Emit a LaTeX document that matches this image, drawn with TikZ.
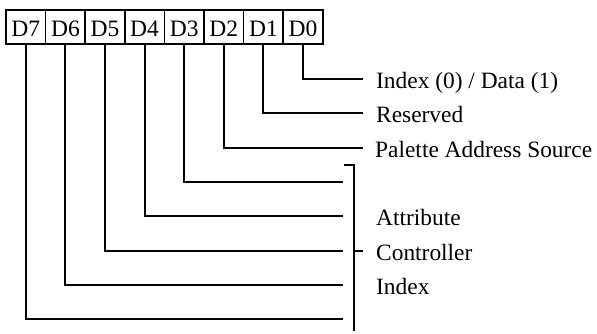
\documentclass[tikz,border=0pt]{standalone}
\usepackage{fontspec}
\setmainfont{Liberation Serif}
\begin{document}
\begin{tikzpicture}[x=1pt,y=-1pt,
  bitbox/.style={draw,line width=1.6pt,minimum width=39.6pt,minimum height=34pt,inner sep=0pt,
    text height=18pt,text depth=0pt,font=\fontsize{23.5}{28}\selectfont},
  lbl/.style={anchor=base west,inner sep=0pt,font=\fontsize{23.4}{28}\selectfont},
  wire/.style={line width=2.1pt}]
\useasboundingbox (0,0) rectangle (597,333);
% bit boxes
\foreach \i in {0,...,7}{
  \node[bitbox] (b\i) at ({25.8+39.6*(7-\i)},27) {D\i};
}
% line ends
\coordinate (e0) at (363,79);
\coordinate (e1) at (363,113);
\coordinate (e2) at (363,148);
\coordinate (e3) at (343,182);
\coordinate (e4) at (343,216);
\coordinate (e5) at (343,251);
\coordinate (e6) at (343,285);
\coordinate (e7) at (343,319);
% labels
\node[lbl] (l0) at (376,88) {Index (0) / Data (1)};
\node[lbl] (l1) at (376,122) {Reserved};
\node[lbl] (l2) at (375,157) {Palette Address Source};
\node[lbl] (l4) at (376,225) {Attribute};
\node[lbl] (l5) at (376,260) {Controller};
\node[lbl] (l6) at (376,294) {Index};
% wires
\foreach \i in {0,...,7}{
  \draw[wire] (b\i.south) |- (e\i);
}
% bracket
\coordinate (bt) at (344,165);
\coordinate (btc) at (354,165);
\coordinate (bb) at (354,331);
\coordinate (bm) at (354,251);
\coordinate (bmt) at (363,251);
\draw[wire] (bt) -- (btc) -- (bb);
\draw[wire] (bm) -- (bmt);
\end{tikzpicture}
\end{document}
